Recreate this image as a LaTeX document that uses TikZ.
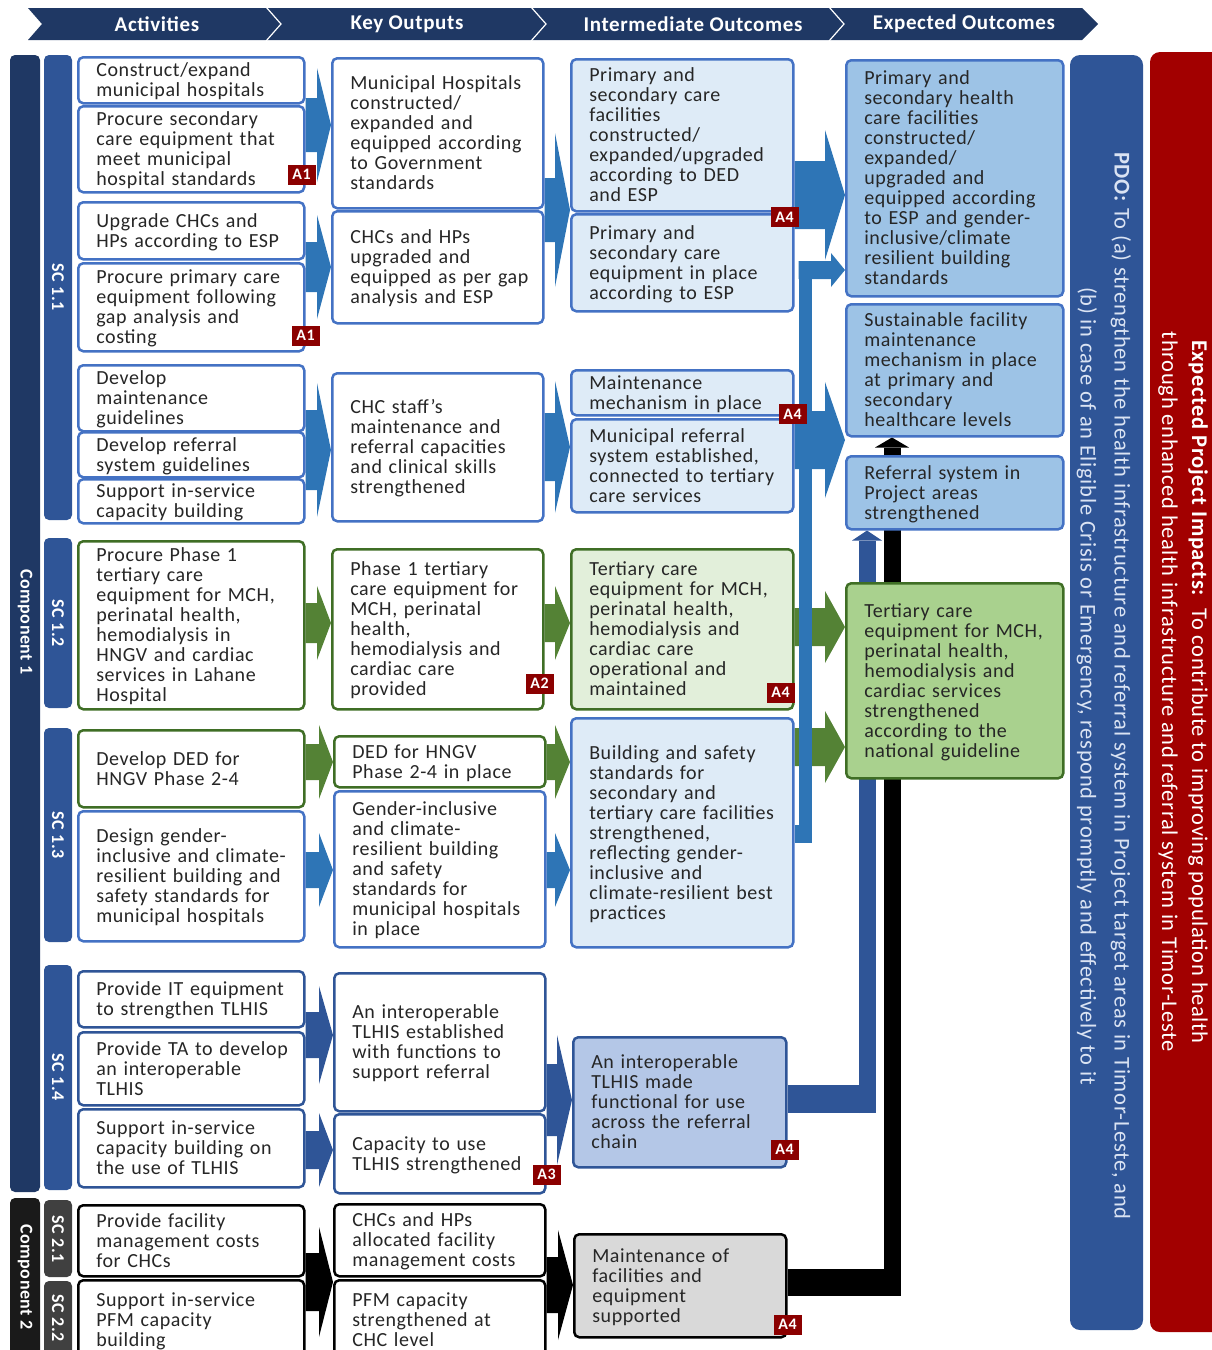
\documentclass[tikz,border=0pt]{standalone}
\usepackage{fontspec}
\setmainfont{Carlito}[LetterSpace=3]
\usetikzlibrary{calc,backgrounds}

\definecolor{navy}{HTML}{1F3864}
\definecolor{scblue}{HTML}{2F5597}
\definecolor{boxblue}{HTML}{4472C4}
\definecolor{arblue}{HTML}{2E75B6}
\definecolor{dkgreen}{HTML}{3F6E25}
\definecolor{argreen}{HTML}{548235}
\definecolor{imblue}{HTML}{DEEBF7}
\definecolor{imgreen}{HTML}{E2EFDA}
\definecolor{exblue}{HTML}{9DC3E6}
\definecolor{exgreen}{HTML}{A9D18E}
\definecolor{tlblue}{HTML}{B4C7E7}
\definecolor{mgray}{HTML}{D9D9D9}
\definecolor{badgered}{HTML}{8B0000}
\definecolor{impred}{HTML}{A20000}
\definecolor{cmptwo}{HTML}{1A1A1A}
\definecolor{scgray}{HTML}{404040}
\definecolor{pdotxt}{HTML}{DAE3F3}
\definecolor{txt}{HTML}{262626}

\newcommand\stk[1]{\noindent\raisebox{-2.5pt}[\height][\depth]{\begin{tabular}{@{}l@{}}#1\end{tabular}}}
\newcommand\fatarrow[6]{%
  \fill[#1] let \p1=(#2), \p2=(#3) in
    (\x1,{\y1+#4pt}) -- ({\x2-#6pt},{\y1+#4pt}) -- ({\x2-#6pt},{\y1+#5pt})
    -- (\x2,\y1) -- ({\x2-#6pt},{\y1-#5pt}) -- ({\x2-#6pt},{\y1-#4pt})
    -- (\x1,{\y1-#4pt}) -- cycle;}
\newcommand\uphead[4]{\fill[#1] (#2) -- ++(-#3,#4) -- ++({2*#3},0) -- cycle;}

\tikzset{
  box/.style={draw, rounded corners=5pt, line width=2.5pt, anchor=north west,
    align=left, inner xsep=18pt, inner ysep=0pt, text=txt,
    font=\fontsize{20}{20}\selectfont},
  act/.style={box, text width=190pt, draw=boxblue, fill=white},
  actg/.style={act, draw=dkgreen},
  actd/.style={act, draw=scblue},
  actk/.style={act, draw=black},
  kout/.style={box, text width=175pt, draw=boxblue, fill=white},
  koutg/.style={kout, draw=dkgreen},
  koutd/.style={kout, draw=scblue},
  koutk/.style={kout, draw=black},
  imd/.style={box, text width=186pt, draw=boxblue, fill=imblue},
  imdg/.style={imd, draw=dkgreen, fill=imgreen},
  exo/.style={box, text width=181pt, draw=boxblue, fill=exblue},
  exog/.style={exo, draw=dkgreen, fill=exgreen},
  badge/.style={fill=badgered, text=white, font=\bfseries\fontsize{16}{16}\selectfont,
    inner sep=0pt, minimum width=28pt, minimum height=20pt},
  hdr/.style={text=white, font=\bfseries\fontsize{21}{21}\selectfont},
  bar/.style={rounded corners=5pt},
  barlabel/.style={rotate=-90, text=white, font=\bfseries\fontsize{18}{18}\selectfont},
}

\begin{document}
\begin{tikzpicture}[x=1pt,y=-1pt]
  \useasboundingbox (0,0) rectangle (1212,1350);

  \fill[navy] (28,8) -- (1082,8) -- (1098,24) -- (1082,40) -- (28,40) -- (42,24) -- cycle;
  \foreach \x in {266,531,829}
    \draw[white, line width=1.2pt] (\x,7) -- (\x+15,24) -- (\x,41);
  \node (h1) at (157,24) [hdr] {Activities};
  \node (h2) at (407,24) [hdr] {Key Outputs};
  \node (h3) at (693,24) [hdr] {Intermediate Outcomes};
  \node (h4) at (964,24) [hdr] {Expected Outcomes};

  \fill[navy, bar] (10,55) rectangle (40,1192);
  \node (c1) at (25,622) [barlabel] {Component 1};
  \fill[cmptwo, bar] (10,1198) rectangle (40,1370);
  \node (c2) at (25,1277) [barlabel] {Component 2};
  \fill[scblue, bar] (44,55) rectangle (72,520);
  \node (sc11) at (58,287) [barlabel] {SC 1.1};
  \fill[scblue, bar] (44,538) rectangle (72,708);
  \node (sc12) at (58,623) [barlabel] {SC 1.2};
  \fill[scblue, bar] (44,728) rectangle (72,942);
  \node (sc13) at (58,835) [barlabel] {SC 1.3};
  \fill[scblue, bar] (44,965) rectangle (72,1190);
  \node (sc14) at (58,1077) [barlabel] {SC 1.4};
  \fill[scgray, bar] (44,1200) rectangle (72,1277);
  \node (sc21) at (58,1239) [barlabel] {SC 2.1};
  \fill[scgray, bar] (44,1281) rectangle (72,1370);
  \node (sc22) at (58,1318) [barlabel] {SC 2.2};

  \fill[scblue, rounded corners=10pt] (1070,55) rectangle (1143,1330);
  \node (pdo) at (1104,686) [rotate=-90, align=center, text=pdotxt, font=\fontsize{22.5}{34}\selectfont]
    {\textbf{PDO:} To (a) strengthen the health infrastructure and referral system in Project target areas in Timor-Leste, and\\
     (b) in case of an Eligible Crisis or Emergency, respond promptly and effectively to it};
  \fill[impred, rounded corners=10pt] (1150,52) rectangle (1240,1332);
  \node (imp) at (1183,692) [rotate=-90, align=center, text=white, font=\fontsize{22.5}{30}\selectfont]
    {\textbf{Expected Project Impacts:}\ \ To contribute to improving population health\\
     through enhanced health infrastructure and referral system in Timor-Leste};

  % activities
  \node (a1) at (77,56) [act, minimum height=46pt] {\stk{Construct/expand\\municipal hospitals}};
  \node (a2) at (77,105) [act, minimum height=86pt] {\stk{Procure secondary\\care equipment that\\meet municipal\\hospital standards}};
  \node (a3) at (77,201) [act, minimum height=57pt] {\stk{Upgrade CHCs and\\HPs according to ESP}};
  \node (a4) at (77,262) [act, minimum height=88pt] {\stk{Procure primary care\\equipment following\\gap analysis and\\costing}};
  \node (a5) at (77,364) [act, minimum height=66pt] {\stk{Develop\\maintenance\\guidelines}};
  \node (a6) at (77,431) [act, minimum height=45pt] {\stk{Develop referral\\system guidelines}};
  \node (a7) at (77,478) [act, minimum height=44pt] {\stk{Support in-service\\capacity building}};
  \node (a8) at (77,540) [actg, minimum height=168pt] {\stk{Procure Phase 1\\tertiary care\\equipment for MCH,\\perinatal health,\\hemodialysis in\\HNGV and cardiac\\services in Lahane\\Hospital}};
  \node (a9) at (77,729) [actg, minimum height=77pt] {\stk{Develop DED for\\HNGV Phase 2-4}};
  \node (a10) at (77,810) [act, minimum height=130pt] {\stk{Design gender-\\inclusive and climate-\\resilient building and\\safety standards for\\municipal hospitals}};
  \node (a11) at (77,970) [actd, minimum height=56pt] {\stk{Provide IT equipment\\to strengthen TLHIS}};
  \node (a12) at (77,1031) [actd, minimum height=73pt] {\stk{Provide TA to develop\\an interoperable\\TLHIS}};
  \node (a13) at (77,1108) [actd, minimum height=78pt] {\stk{Support in-service\\capacity building on\\the use of TLHIS}};
  \node (a14) at (77,1204) [actk, minimum height=71pt] {\stk{Provide facility\\management costs\\for CHCs}};
  \node (a15) at (77,1279) [actk, minimum height=80pt] {\stk{Support in-service\\PFM capacity\\building}};

  % key outputs
  \node (o1) at (331,57) [kout, minimum height=150pt] {\stk{Municipal Hospitals\\constructed/\\expanded and\\equipped according\\to Government\\standards}};
  \node (o2) at (331,210) [kout, minimum height=112pt] {\stk{CHCs and HPs\\upgraded and\\equipped as per gap\\analysis and ESP}};
  \node (o3) at (331,372) [kout, minimum height=148pt] {\stk{CHC staff’s\\maintenance and\\referral capacities\\and clinical skills\\strengthened}};
  \node (o4) at (331,548) [koutg, minimum height=160pt] {\stk{Phase 1 tertiary\\care equipment for\\MCH, perinatal\\health,\\hemodialysis and\\cardiac care\\provided}};
  \node (o5) at (333,735) [koutg, minimum height=51pt] {\stk{DED for HNGV\\Phase 2-4 in place}};
  \node (o6) at (333,790) [kout, minimum height=156pt] {\stk{Gender-inclusive\\and climate-\\resilient building\\and safety\\standards for\\municipal hospitals\\in place}};
  \node (o7) at (333,972) [koutd, minimum height=138pt] {\stk{An interoperable\\TLHIS established\\with functions to\\support referral}};
  \node (o8) at (333,1113) [koutd, minimum height=79pt] {\stk{Capacity to use\\TLHIS strengthened}};
  \node (o9) at (333,1203) [koutk, minimum height=72pt] {\stk{CHCs and HPs\\allocated facility\\management costs}};
  \node (o10) at (333,1279) [koutk, minimum height=80pt] {\stk{PFM capacity\\strengthened at\\CHC level}};

  % intermediate outcomes
  \node (i1) at (570,58) [imd, minimum height=152pt] {\stk{Primary and\\secondary care\\facilities\\constructed/\\expanded/upgraded\\according to DED\\and ESP}};
  \node (i2) at (570,213) [imd, minimum height=97pt] {\stk{Primary and\\secondary care\\equipment in place\\according to ESP}};
  \node (i3) at (570,369) [imd, minimum height=45pt] {\stk{Maintenance\\mechanism in place}};
  \node (i4) at (570,418) [imd, minimum height=93pt] {\stk{Municipal referral\\system established,\\connected to tertiary\\care services}};
  \node (i5) at (570,548) [imdg, minimum height=160pt] {\stk{Tertiary care\\equipment for MCH,\\perinatal health,\\hemodialysis and\\cardiac care\\operational and\\maintained}};
  \node (i6) at (570,717) [imd, minimum height=229pt] {\stk{Building and safety\\standards for\\secondary and\\tertiary care facilities\\strengthened,\\reflecting gender-\\inclusive and\\climate-resilient best\\practices}};
  \node (i7) at (572,1036) [imd, text width=177pt, draw=scblue, fill=tlblue, minimum height=130pt] {\stk{An interoperable\\TLHIS made\\functional for use\\across the referral\\chain}};
  \node (i8) at (573,1233) [imd, text width=176pt, draw=black, fill=mgray, minimum height=103pt] {\stk{Maintenance of\\facilities and\\equipment\\supported}};

  % expected outcomes
  \node (e1) at (845,59) [exo, minimum height=236pt] {\stk{Primary and\\secondary health\\care facilities\\constructed/\\expanded/\\upgraded and\\equipped according\\to ESP and gender-\\inclusive/climate\\resilient building\\standards}};
  \node (e2) at (845,303) [exo, minimum height=132pt] {\stk{Sustainable facility\\maintenance\\mechanism in place\\at primary and\\secondary\\healthcare levels}};
  \node (e3) at (845,455) [exo, minimum height=73pt] {\stk{Referral system in\\Project areas\\strengthened}};
  \node (e4) at (845,582) [exog, minimum height=195pt] {\stk{Tertiary care\\equipment for MCH,\\perinatal health,\\hemodialysis and\\cardiac services\\strengthened\\according to the\\national guideline}};

  \node (b1) at ([shift={(-4,-19)}]a2.south east) [badge] {A1};
  \node (b2) at ([shift={(0,-17)}]a4.south east) [badge] {A1};
  \node (b3) at ([shift={(-5,-27)}]o4.south east) [badge] {A2};
  \node (b4) at ([shift={(0,-20)}]o8.south east) [badge] {A3};
  \node (b5) at ([shift={(-10,4)}]i2.north east) [badge] {A4};
  \node (b6) at ([shift={(-2,-4)}]i4.north east) [badge] {A4};
  \node (b7) at ([shift={(-14,-18)}]i5.south east) [badge] {A4};
  \node (b8) at ([shift={(-3,-19)}]i7.south east) [badge] {A4};
  \node (b9) at ([shift={(0,-14)}]i8.south east) [badge] {A4};

  \begin{scope}[on background layer]
    \fatarrow{arblue}{a2.east |- 0,125}{o1.west |- 0,125}{27}{57}{14}
    \fatarrow{arblue}{a4.east |- 0,267}{o2.west |- 0,267}{25}{52}{14}
    \fatarrow{arblue}{a6.east |- 0,450}{o3.west |- 0,450}{40}{67}{14}
    \fatarrow{argreen}{a8.east |- 0,623}{o4.west |- 0,623}{20}{37}{14}
    \fatarrow{argreen}{a9.east |- 0,762}{o5.west |- 0,762}{18}{37}{14}
    \fatarrow{arblue}{a10.east |- 0,870}{o6.west |- 0,870}{18}{37}{14}
    \fatarrow{scblue}{a12.east |- 0,1035}{o7.west |- 0,1035}{23}{49}{14}
    \fatarrow{scblue}{a13.east |- 0,1150}{o8.west |- 0,1150}{19}{37}{14}
    \fatarrow{black}{a14.east |- 0,1282}{o9.west |- 0,1282}{29}{55}{14}

    \fatarrow{arblue}{o1.east |- 0,210}{i1.west |- 0,210}{32}{77}{15}
    \fatarrow{arblue}{o3.east |- 0,447}{i4.west |- 0,447}{34}{66}{15}
    \fatarrow{argreen}{o4.east |- 0,623}{i5.west |- 0,623}{19}{37}{15}
    \fatarrow{argreen}{o5.east |- 0,762}{i6.west |- 0,762}{18}{37}{15}
    \fatarrow{arblue}{o6.east |- 0,870}{i6.west |- 0,870}{18}{37}{15}
    \fatarrow{scblue}{o7.east |- 0,1100}{i7.west |- 0,1100}{36}{65}{15}
    \fatarrow{black}{o9.east |- 0,1285}{i8.west |- 0,1285}{28}{55}{15}

    \fatarrow{arblue}{i1.east |- 0,195}{e1.west |- 0,195}{34}{65}{20}
    \fatarrow{arblue}{i4.east |- 0,440}{e2.west |- 0,440}{29}{58}{20}
    \fatarrow{argreen}{i5.east |- 0,627}{e4.west |- 0,627}{19}{36}{20}
    \fatarrow{argreen}{i6.east |- 0,747}{e4.west |- 0,747}{19}{36}{20}

    \coordinate (k1) at (805,834);
    \coordinate (k2) at (805,270);
    \draw[arblue, line width=18pt] (i6.east |- k1) -- ([xshift=6.5pt]k1);
    \draw[arblue, line width=13pt] ([yshift=-9pt]k1) -- (k2);
    \fatarrow{arblue}{[xshift=-6.5pt]k2}{e1.west |- k2}{9}{17}{14}

    \coordinate (k3) at (867,1099);
    \draw[scblue, line width=28pt] (i7.east |- k3) -- ([xshift=8.5pt]k3);
    \draw[scblue, line width=17pt] ([yshift=-14pt]k3) -- ([yshift=-10pt]e3.south -| k3);
    \uphead{scblue}{e3.south -| k3}{15}{10}

    \coordinate (k4) at (892,1282);
    \draw[black, line width=27pt] (i8.east |- k4) -- ([xshift=8.5pt]k4);
    \draw[black, line width=17pt] ([yshift=-13.5pt]k4) -- ([yshift=-10pt]e2.south -| k4);
    \uphead{black}{e2.south -| k4}{17}{10}
  \end{scope}
\end{tikzpicture}
\end{document}
